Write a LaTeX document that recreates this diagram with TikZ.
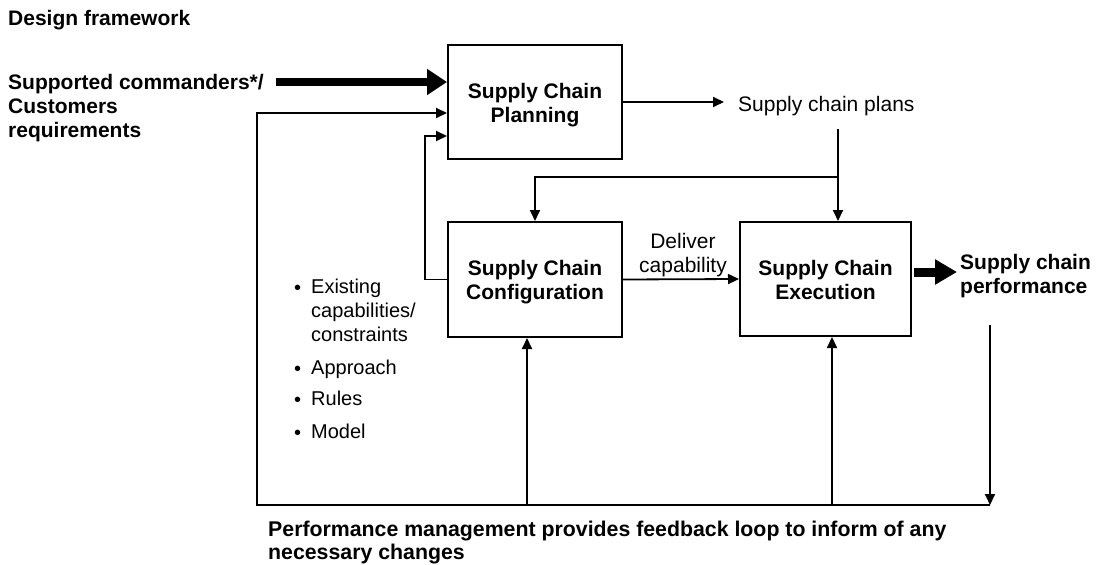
\documentclass[tikz,border=0pt]{standalone}
\usepackage{fontspec}
\setmainfont{Liberation Sans}
\usetikzlibrary{arrows.meta,calc}
\newcommand{\boxlines}[1]{\raisebox{0pt}[\dimexpr\height+7pt\relax]{\begin{tabular}{@{}c@{}}#1\end{tabular}}}
\newcommand{\mybul}{\raisebox{-1pt}{\textbullet}}
\begin{document}
\begin{tikzpicture}[x=1pt,y=-1pt,
  box/.style={draw,line width=2pt,minimum width=174pt,minimum height=114pt,align=center,font=\bfseries\fontsize{21}{24}\selectfont,inner sep=0pt},
  txt/.style={inner sep=0pt,align=left,font=\fontsize{21}{24}\selectfont},
  btxt/.style={inner sep=0pt,align=left,font=\bfseries\fontsize{21}{24}\selectfont},
  conn/.style={line width=1.8pt},
  arr/.style={conn,-{Triangle[length=11pt,width=10pt]}},
  bigarr/.style={line width=8pt,-{Triangle[length=20pt,width=25pt]}},
  bigarrb/.style={line width=9pt,-{Triangle[length=22pt,width=24pt]}},
]
\useasboundingbox (0,0) rectangle (1096,565);

% boxes
\node[box] (plan) at (535,102) {\boxlines{Supply Chain\\Planning}};
\node[box,minimum height=115pt] (config) at (535,279.5) {\boxlines{Supply Chain\\Configuration}};
\node[box,minimum width=171pt] (exec) at (825.5,279) {\boxlines{Supply Chain\\Execution}};

% texts
\node[btxt,anchor=north west] (title) at (8,10) {Design framework};
\node[btxt,anchor=north west] (req) at (8,74) {Supported commanders*/\\Customers\\requirements};
\node[txt,anchor=west] (plans) at (738,106) {Supply chain plans};
\node[txt,align=center] (deliver) at (683,255) {Deliver\\capability};
\node[btxt,anchor=west] (perf) at (960,276) {Supply chain\\performance};
\node[btxt,anchor=north west,font=\bfseries\fontsize{21.3}{23}\selectfont] (pm) at (268,521) {Performance management provides feedback loop to inform of any\\necessary changes};
\node[txt,anchor=north west,font=\fontsize{20}{24}\selectfont] (list) at (294,276) {%
\begin{tabular}{@{}l@{\hspace{10pt}}l@{}}
\mybul & Existing\\
 & capabilities/\\
 & constraints\\[9pt]
\mybul & Approach\\[7pt]
\mybul & Rules\\[9pt]
\mybul & Model
\end{tabular}};

% coordinates
\coordinate (ptop) at (838,129);
\coordinate (split) at (838,177);
\coordinate (fb) at (990,325);
\coordinate (br) at (990,505);
\coordinate (bl) at (257,505);
\coordinate (c1) at (527,505);
\coordinate (c2) at (832,505);

% connectors
\draw[arr] (plan.east) -- ($(plan.east -| plans.west)+(-14,0)$);
\draw[arr] (ptop) -- (ptop |- exec.north);
\draw[arr] (split) -| (config.north);
\draw[arr] (config.east) -- (exec.west);
\draw[arr] (config.west) -- ++(-22,0) |- ($(plan.west)+(0,34)$);
\draw[bigarr] ($(req.north east)+(12,8)$) coordinate (a) -- (a -| plan.west);
\draw[arr] (fb) -- (br);
\draw[arr] (br) -- (bl) |- ($(plan.west)+(0,11)$);
\draw[arr] (c1) -- (c1 |- config.south);
\draw[arr] (c2) -- (c2 |- exec.south);
\draw[bigarrb] ($(exec.east |- perf.west)+(2,-4)$) -- ($(perf.west)+(-3,-4)$);
\end{tikzpicture}
\end{document}
